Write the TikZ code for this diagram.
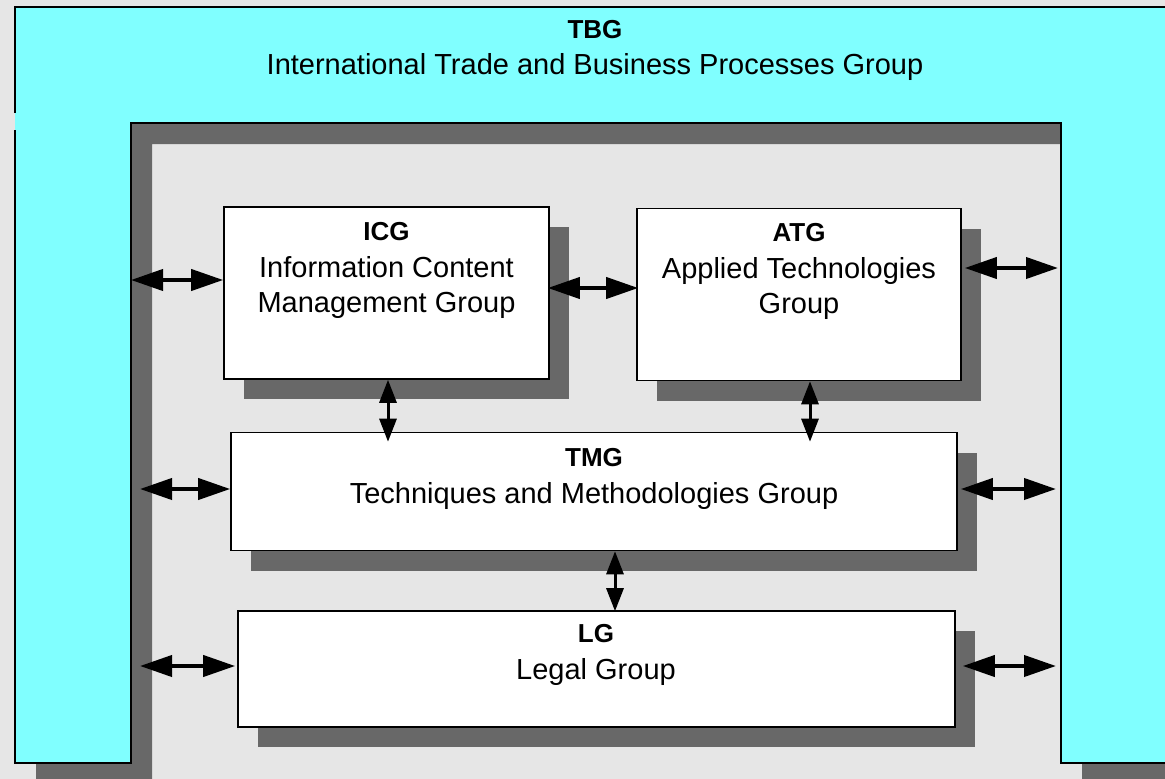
\documentclass[tikz,border=0pt]{standalone}
\usepackage{fontspec}
\setmainfont{Liberation Sans}
\usetikzlibrary{arrows.meta,shadows}
\definecolor{bgc}{HTML}{E6E6E6}
\definecolor{cyanc}{HTML}{80FFFF}
\definecolor{shadc}{HTML}{686868}
\tikzset{
  grpbox/.style={draw=black,line width=1.6pt,fill=white,inner sep=0pt,
    drop shadow={shadow xshift=20pt,shadow yshift=-20pt,fill=shadc,opacity=1}},
  ttl/.style={anchor=base,inner sep=0pt,font=\fontsize{26}{30}\selectfont\bfseries},
  txt/.style={anchor=base,inner sep=0pt,font=\fontsize{29}{34}\selectfont},
  harrow/.style={line width=4pt,{Triangle[length=32pt,width=21pt]}-{Triangle[length=32pt,width=21pt]}},
  varrow/.style={line width=3pt,{Triangle[length=23pt,width=17pt]}-{Triangle[length=23pt,width=17pt]}}
}
\begin{document}
\begin{tikzpicture}[x=1pt,y=-1pt]
\useasboundingbox (0,0) rectangle (1165,779);
\clip (0,0) rectangle (1165,779);
\fill[bgc] (0,0) rectangle (1165,779);
% shadow of the TBG frame
\fill[shadc] (36,28) -- (1200,28) -- (1200,790) -- (1082,790) -- (1082,144) -- (152,144)
  -- (152,790) -- (36,790) -- cycle;
% TBG frame
\fill[cyanc] (15,7) -- (1200,7) -- (1200,763) -- (1061,763) -- (1061,123) -- (131,123)
  -- (131,763) -- (15,763) -- cycle;
\draw[line width=1.6pt,line join=miter] (15,113) -- (15,7) -- (1200,7);
\draw[line width=1.6pt,line join=miter] (15,130) -- (15,763) -- (131,763) -- (131,123)
  -- (1061,123) -- (1061,763) -- (1200,763);
\node[ttl] (tbgA) at (595,38) {TBG};
\node[txt] (tbgB) at (595,74) {International Trade and Business Processes Group};
% group boxes
\node[grpbox,minimum width=325pt,minimum height=172pt] (icg) at (386.5,293) {};
\node[grpbox,minimum width=324pt,minimum height=172pt] (atg) at (799,294.5) {};
\node[grpbox,minimum width=726pt,minimum height=118pt] (tmg) at (594,491.5) {};
\node[grpbox,minimum width=717pt,minimum height=116pt] (lg) at (596.5,669) {};
% texts
\node[ttl] (icgA) at (386.5,240) {ICG};
\node[txt] (icgB) at (386.5,277) {Information Content};
\node[txt] (icgC) at (386.5,312) {Management Group};
\node[ttl] (atgA) at (799,241) {ATG};
\node[txt] (atgB) at (799,278) {Applied Technologies};
\node[txt] (atgC) at (799,313) {Group};
\node[ttl] (tmgA) at (594,466) {TMG};
\node[txt] (tmgB) at (594,503) {Techniques and Methodologies Group};
\node[ttl] (lgA) at (596,642) {LG};
\node[txt] (lgB) at (596,679) {Legal Group};
% free ends on the TBG frame
\coordinate (l1) at (131,280);
\coordinate (l2) at (140,489);
\coordinate (l3) at (140,666);
\coordinate (r1) at (1058,268);
\coordinate (r2) at (1056,489);
\coordinate (r3) at (1056,666);
\coordinate (m1) at (0,288);
\coordinate (v1) at (388,0);
\coordinate (v2) at (810,0);
\coordinate (v3) at (615,0);
% connectors
\draw[harrow] (l1) -- (l1 -| icg.west);
\draw[harrow] (l2) -- (l2 -| tmg.west);
\draw[harrow] (l3) -- ([xshift=-2pt]l3 -| lg.west);
\draw[harrow] ([xshift=3pt]r1 -| atg.east) -- (r1);
\draw[harrow] ([xshift=3pt]r2 -| tmg.east) -- (r2);
\draw[harrow] ([xshift=7pt]r3 -| lg.east) -- (r3);
\draw[harrow] ([xshift=-2pt]m1 -| icg.east) -- ([xshift=2pt]m1 -| atg.west);
\draw[varrow] (v1 |- icg.south) -- ([yshift=-10pt]v1 |- tmg.north);
\draw[varrow] (v2 |- atg.south) -- ([yshift=-10pt]v2 |- tmg.north);
\draw[varrow] (v3 |- tmg.south) -- ([yshift=-1pt]v3 |- lg.north);
\end{tikzpicture}
\end{document}
